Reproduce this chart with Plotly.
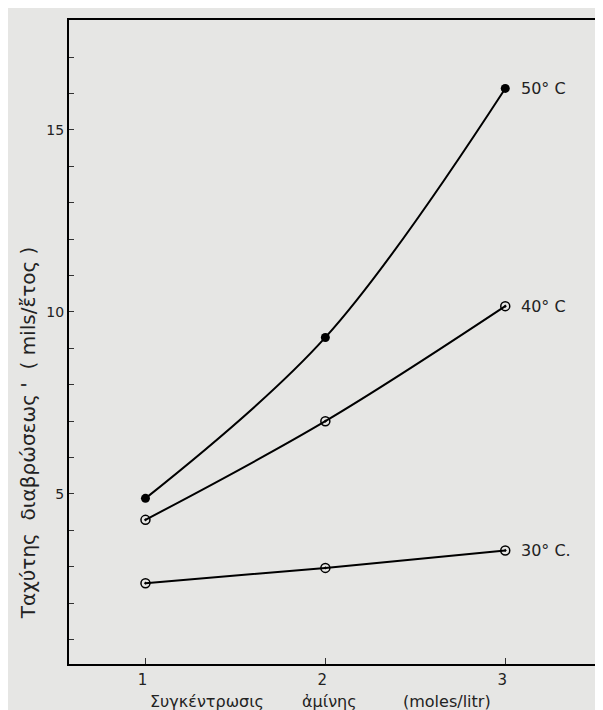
import plotly.graph_objects as go

concentration = [1, 2, 3]
rate_50 = [4.88, 9.3, 16.14]
rate_40 = [4.29, 7.0, 10.16]
rate_30 = [2.55, 2.97, 3.45]
series_labels = ["50° C", "40° C", "30° C."]
x_ticks = [1, 2, 3]
y_ticks = list(range(1, 18))
y_labeled = {5: "5", 10: "10", 15: "15"}

FONT = "DejaVu Sans"
BG = "#e6e6e4"
TXT = "#222"

# plot-area geometry (pixels)
L, R, T, B = 61, 600, 12, 656
W, H = 603, 710
PW, PH = R - L, B - T

fig = go.Figure()
fig.add_trace(go.Scatter(x=concentration, y=rate_50, mode="lines+markers",
                         line=dict(color="black", width=2, shape="spline", smoothing=1.0),
                         marker=dict(symbol="circle", size=9, color="black")))
for series in (rate_40, rate_30):
    fig.add_trace(go.Scatter(x=concentration, y=series, mode="lines+markers",
                             line=dict(color="black", width=2, shape="spline", smoothing=1.0),
                             marker=dict(symbol="circle-open-dot", size=9, color="black",
                                         line=dict(width=1.5, color="black"))))

for yv, lab in zip([rate_50[-1], rate_40[-1], rate_30[-1]], series_labels):
    fig.add_annotation(x=concentration[-1], y=yv, text=lab, showarrow=False,
                       xanchor="left", yanchor="middle", xshift=14,
                       font=dict(family=FONT, size=16, color=TXT))

# y-axis title
fig.add_annotation(xref="paper", yref="paper", x=(20 - L) / PW, y=(B - 425) / PH,
                   text="Ταχύτης  διαβρώσεως '  ( mils/ἔτος )", textangle=-90,
                   showarrow=False, xanchor="center", yanchor="middle",
                   font=dict(family=FONT, size=20, color=TXT))
# x-axis title (three words placed as in the original lettering)
for word, px in [("Συγκέντρωσις", 200), ("ἀμίνης", 322), ("(moles/litr)", 440)]:
    fig.add_annotation(xref="paper", yref="paper", x=(px - L) / PW, y=-(693 - B) / PH,
                       text=word, showarrow=False, xanchor="center", yanchor="middle",
                       font=dict(family=FONT, size=16, color=TXT))

fig.update_xaxes(range=[0.575, 3.56], tickvals=x_ticks, ticktext=[str(v) for v in x_ticks],
                 ticks="inside", ticklen=6, tickwidth=1, tickcolor="#333",
                 showline=True, linecolor="black", linewidth=2, mirror=True,
                 showgrid=False, zeroline=False, ticklabelshift=-3, ticklabelstandoff=1,
                 tickfont=dict(family=FONT, size=15, color=TXT))
fig.update_yaxes(range=[0.33, 18.02], tickvals=y_ticks,
                 ticktext=[y_labeled.get(v, "") for v in y_ticks],
                 ticks="inside", ticklen=5, tickwidth=1, tickcolor="#333",
                 showline=True, linecolor="black", linewidth=2, mirror=True,
                 showgrid=False, zeroline=False,
                 tickfont=dict(family=FONT, size=14, color=TXT))

fig.update_layout(width=W, height=H, showlegend=False,
                  margin=dict(l=L, r=W - R, t=T, b=H - B),
                  paper_bgcolor=BG, plot_bgcolor=BG)

fig.write_html("out.html")
